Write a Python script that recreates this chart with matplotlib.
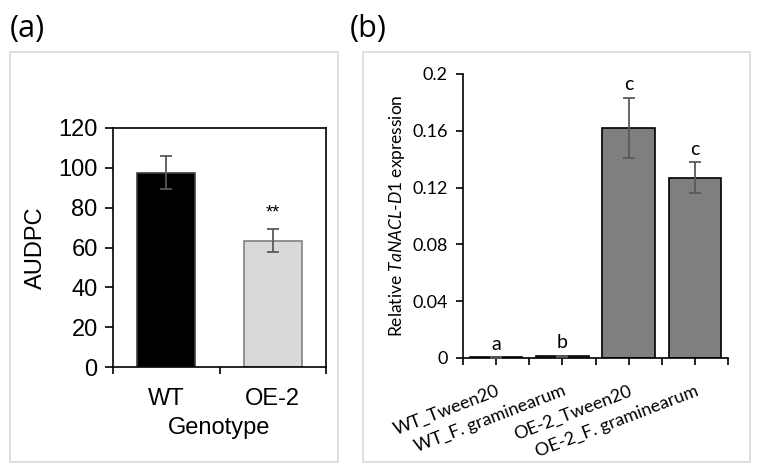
import matplotlib
matplotlib.use("Agg")
import matplotlib.pyplot as plt
from matplotlib.patches import Rectangle

# panel (a) data
genotypes = ["WT", "OE-2"]
audpc = [97.5, 63.5]
audpc_err = [8.2, 5.8]

# panel (b) data
treatments = ["WT_Tween20", "WT_F. graminearum", "OE-2_Tween20", "OE-2_F. graminearum"]
expression = [0.0005, 0.0012, 0.162, 0.127]
expression_err = [0.0002, 0.0005, 0.0213, 0.0108]
letters = ["a", "b", "c", "c"]

plt.rcParams["mathtext.fontset"] = "custom"
plt.rcParams["mathtext.it"] = "Lato:italic"
plt.rcParams["mathtext.rm"] = "Lato"

W, H = 757, 476
fig = plt.figure(figsize=(W / 100, H / 100), dpi=100)

def px(x0, y0, x1, y1):
    # pixel box (top-left origin) -> figure fraction rect
    return [x0 / W, 1 - y1 / H, (x1 - x0) / W, (y1 - y0) / H]

# light grey frames around panels
for x0, x1 in [(10, 338), (363, 750)]:
    r = px(x0, 52, x1, 462)
    fig.patches.append(Rectangle((r[0], r[1]), r[2], r[3], transform=fig.transFigure,
                                 fill=False, edgecolor="#d9d9d9", linewidth=1.2))

fig.text(10 / W, 1 - 29 / H, "(a)", fontsize=22, family="Open Sans", va="center")
fig.text(350 / W, 1 - 29 / H, "(b)", fontsize=22, family="Open Sans", va="center")

# ---- panel (a)
ax1 = fig.add_axes(px(113, 128, 326, 367))
xa = range(len(genotypes))
ax1.bar(xa, audpc, width=0.54, color=["black", "#d9d9d9"],
        edgecolor=["#404040", "#808080"], linewidth=1.2, zorder=2)
ax1.errorbar(xa, audpc, yerr=audpc_err, fmt="none", ecolor="#595959",
             elinewidth=1.3, capsize=4, capthick=1.3, zorder=3)
ax1.text(1, audpc[1] + audpc_err[1] + 4, "**", ha="center", va="bottom",
         fontsize=13, family="Liberation Sans")
ax1.set_xlim(-0.5, 1.5)
ax1.set_ylim(0, 120)
ax1.set_yticks(range(0, 121, 20))
ax1.set_xticks(list(xa))
ax1.set_xticklabels(genotypes)
ax1.set_xticks([-0.5, 0.5, 1.5], minor=True)
ax1.tick_params(axis="x", which="major", length=0, pad=15)
ax1.tick_params(axis="x", which="minor", length=5, width=1.2, direction="out")
ax1.tick_params(axis="y", length=6, width=1.2, direction="out", pad=5)
for lab in ax1.get_xticklabels() + ax1.get_yticklabels():
    lab.set_family("Liberation Sans")
    lab.set_fontsize(17)
ax1.set_ylabel("AUDPC", fontsize=17, family="Liberation Sans", labelpad=8)
ax1.set_xlabel("Genotype", fontsize=17, family="Liberation Sans", labelpad=5)
for s in ax1.spines.values():
    s.set_linewidth(1.2)

# ---- panel (b)
ax2 = fig.add_axes(px(463, 74, 728, 358))
xb = range(len(treatments))
ax2.bar(xb, expression, width=0.79, color="#7f7f7f", edgecolor="black",
        linewidth=1.2, zorder=2)
ax2.errorbar(xb, expression, yerr=expression_err, fmt="none", ecolor="#595959",
             elinewidth=1.3, capsize=4, capthick=1.3, zorder=3)
for i, (v, e, t) in enumerate(zip(expression, expression_err, letters)):
    ax2.text(i, v + e + 0.003, t, ha="center", va="bottom", fontsize=14, family="Lato")
ax2.set_xlim(-0.5, 3.5)
ax2.set_ylim(0, 0.2)
ax2.set_yticks([0, 0.04, 0.08, 0.12, 0.16, 0.2])
ax2.set_yticklabels(["0", "0.04", "0.08", "0.12", "0.16", "0.2"])
ax2.set_xticks(list(xb))
ax2.set_xticklabels(treatments, rotation=21, ha="right", va="top",
                    rotation_mode="anchor")
ax2.set_xticks([-0.5, 0.5, 1.5, 2.5, 3.5], minor=True)
ax2.tick_params(axis="x", which="both", length=5, width=1.2, direction="out", pad=13)
ax2.tick_params(axis="y", length=5, width=1.2, direction="out", pad=6)
for lab in ax2.get_xticklabels() + ax2.get_yticklabels():
    lab.set_family("Lato")
    lab.set_fontsize(13)
ax2.set_ylabel(r"Relative $\mathit{TaNACL}$-$\mathit{D1}$ expression", fontsize=12.5,
               family="Lato", labelpad=4)
ax2.spines["top"].set_visible(False)
ax2.spines["right"].set_visible(False)
for s in ["left", "bottom"]:
    ax2.spines[s].set_linewidth(1.2)

fig.savefig("out.png", dpi=100)
